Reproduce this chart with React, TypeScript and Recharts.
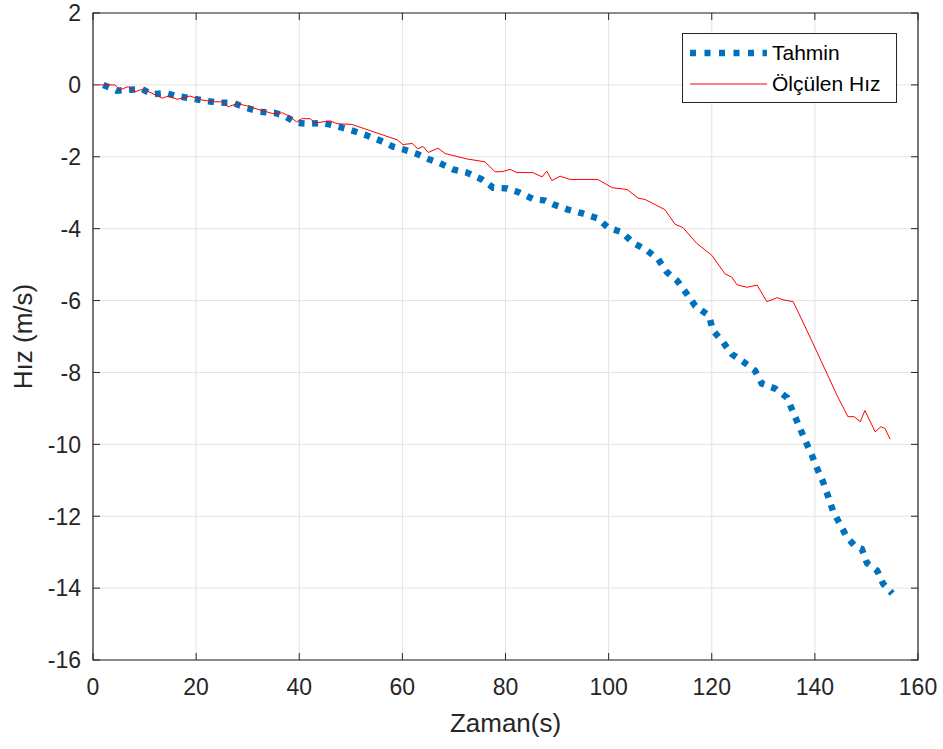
import React from 'react';
import { LineChart, Line, XAxis, YAxis, CartesianGrid, Legend, ReferenceArea, Label } from 'recharts';

// Tahmin (estimate) series
const tahminTime = [
  2, 4.6, 6.8, 9.5, 11.4, 14, 16.3, 18.8, 21.7, 24.6, 27.2, 29.5, 32.4, 35.3, 37.2, 39.5, 42.1, 44.6, 47.3, 49.8,
  52.8, 55.7, 58.2, 60.5, 62.8, 65, 67.3, 69.8, 72.5, 75.4, 77.6, 80.3, 82.8, 85.3, 87.7, 89.2, 92.1, 94.8, 97.8,
  99.9, 102.6, 104.7, 107.4, 109.6, 111.3, 113.3, 115.2, 116.8, 119.5, 120.2, 122.2, 123.9, 126.1, 128.4, 129.7,
  132.3, 134.6, 135.8, 136.9, 138.1, 139.3, 140.4, 141.6, 142.6, 143.5, 144.9, 146.2, 147.8, 149.1, 150.1, 152.1,
  153.2, 155,
];
const tahminValues = [
  0, -0.16, -0.14, -0.12, -0.26, -0.23, -0.31, -0.37, -0.44, -0.5, -0.5, -0.63, -0.75, -0.78, -0.87, -1.06, -1.08,
  -1.06, -1.15, -1.25, -1.39, -1.55, -1.72, -1.81, -1.92, -2.06, -2.18, -2.35, -2.44, -2.63, -2.86, -2.88, -3.0,
  -3.17, -3.22, -3.32, -3.47, -3.57, -3.71, -3.97, -4.1, -4.39, -4.6, -4.85, -5.21, -5.45, -5.82, -6.15, -6.43,
  -6.83, -7.16, -7.49, -7.7, -7.95, -8.31, -8.45, -8.7, -9.11, -9.48, -9.89, -10.26, -10.66, -11.05, -11.46,
  -11.85, -12.23, -12.58, -12.84, -12.91, -13.3, -13.52, -13.87, -14.15,
];

// Ölçülen Hız (measured) series
const olculenTime = [
  1.4, 4.3, 5.2, 6.8, 8.1, 9.7, 11.4, 13.4, 14.6, 16.3, 18.8, 21.1, 23.7, 25, 26.2, 27.9, 29.8, 32, 34.9, 36.8,
  37.8, 39.5, 40.5, 42.1, 43.1, 46, 47.3, 50.2, 59, 60.1, 61.9, 63, 64, 65, 66.9, 68.3, 72.5, 76, 78, 79.5, 80.9,
  82.2, 85.3, 87.1, 88, 89, 90.6, 92.5, 97.9, 100.7, 103.6, 105.7, 107.1, 110.9, 112.9, 114.4, 117.1, 120, 122.6,
  123.9, 124.9, 126.8, 128.8, 130.7, 132.7, 133.8, 135.8, 139.6, 144.3, 146.4, 147.6, 148.8, 149.7, 151.7, 152.8,
  153.6, 154.6,
];
const olculenValues = [
  0, 0, -0.14, -0.05, -0.19, -0.12, -0.23, -0.37, -0.31, -0.4, -0.31, -0.42, -0.47, -0.47, -0.61, -0.52, -0.58,
  -0.68, -0.8, -0.78, -0.85, -1.03, -0.94, -0.94, -1.06, -1.0, -1.08, -1.1, -1.53, -1.66, -1.63, -1.78, -1.71,
  -1.88, -1.76, -1.91, -2.06, -2.14, -2.42, -2.41, -2.35, -2.44, -2.44, -2.56, -2.4, -2.66, -2.54, -2.63, -2.63,
  -2.86, -2.91, -3.15, -3.19, -3.47, -3.88, -3.97, -4.41, -4.74, -5.26, -5.35, -5.56, -5.63, -5.57, -6.03, -5.92,
  -5.98, -6.03, -7.18, -8.64, -9.23, -9.23, -9.37, -9.06, -9.65, -9.51, -9.56, -9.86,
];

const xTicks = [0, 20, 40, 60, 80, 100, 120, 140, 160];
const yTicks = [2, 0, -2, -4, -6, -8, -10, -12, -14, -16];

const tahminData = tahminTime.map((t, i) => ({ t, v: tahminValues[i] }));
const olculenData = olculenTime.map((t, i) => ({ t, v: olculenValues[i] }));

const FONT = '"Liberation Sans", Arial, Helvetica, sans-serif';
const AXIS = '#262626';
const BLUE = '#0072BD';
const RED = '#FF0000';

// plot box (px)
const LEFT = 93;
const TOP = 13;
const RIGHT = 918;
const BOTTOM = 660;

const XTick = (props: any) => {
  const { x, payload } = props;
  return (
    <g>
      <line x1={x} x2={x} y1={BOTTOM} y2={BOTTOM - 7} stroke={AXIS} />
      <line x1={x} x2={x} y1={TOP} y2={TOP + 7} stroke={AXIS} />
      <text x={x} y={BOTTOM + 35} textAnchor="middle" fill={AXIS} fontSize={23} fontFamily={FONT}>
        {payload.value}
      </text>
    </g>
  );
};

const YTick = (props: any) => {
  const { y, payload } = props;
  return (
    <g>
      <line x1={LEFT} x2={LEFT + 7} y1={y} y2={y} stroke={AXIS} />
      <line x1={RIGHT} x2={RIGHT - 7} y1={y} y2={y} stroke={AXIS} />
      <text x={LEFT - 12} y={y + 8.3} textAnchor="end" fill={AXIS} fontSize={23} fontFamily={FONT}>
        {payload.value}
      </text>
    </g>
  );
};

const renderLegend = () => (
  <div
    style={{
      width: 215,
      height: 70,
      border: `1px solid ${AXIS}`,
      background: '#fff',
      fontFamily: FONT,
      fontSize: 21,
      color: '#000',
      boxSizing: 'border-box',
      position: 'relative',
    }}
  >
    <svg width={86} height={68} style={{ position: 'absolute', left: 0, top: 0 }}>
      <line x1={7} x2={84} y1={19} y2={19} stroke={BLUE} strokeWidth={6.5} strokeDasharray="6 8.5" />
      <line x1={7} x2={84} y1={50} y2={50} stroke={RED} strokeWidth={1} />
    </svg>
    <div style={{ position: 'absolute', left: 89, top: 7, lineHeight: '24px' }}>Tahmin</div>
    <div style={{ position: 'absolute', left: 89, top: 38, lineHeight: '24px' }}>Ölçülen Hız</div>
  </div>
);

export default function App() {
  return (
    <div style={{ width: 943, height: 749, background: '#fff' }}>
      <style>{`body{margin:0;}`}</style>
      <LineChart width={943} height={749} margin={{ top: TOP, right: 943 - RIGHT, left: 0, bottom: 29 }}>
        <CartesianGrid stroke="#e3e3e3" strokeWidth={1} />
        <XAxis
          type="number"
          dataKey="t"
          domain={[0, 160]}
          ticks={xTicks}
          height={60}
          axisLine={false}
          tickLine={false}
          tick={<XTick />}
          interval={0}
        >
          <Label
            content={() => (
              <text x={(LEFT + RIGHT) / 2} y={731.5} textAnchor="middle" fill={AXIS} fontSize={26} fontFamily={FONT}>
                Zaman(s)
              </text>
            )}
          />
        </XAxis>
        <YAxis
          type="number"
          domain={[-16, 2]}
          ticks={yTicks}
          width={LEFT}
          axisLine={false}
          tickLine={false}
          tick={<YTick />}
          interval={0}
        >
          <Label
            content={() => (
              <text
                x={32}
                y={(TOP + BOTTOM) / 2}
                textAnchor="middle"
                fill={AXIS}
                fontSize={26}
                fontFamily={FONT}
                transform={`rotate(-90, 32, ${(TOP + BOTTOM) / 2})`}
              >
                Hız (m/s)
              </text>
            )}
          />
        </YAxis>
        <Line
          data={tahminData}
          dataKey="v"
          name="Tahmin"
          type="linear"
          stroke={BLUE}
          strokeWidth={6.5}
          strokeDasharray="6 7.5"
          dot={false}
          activeDot={false}
          isAnimationActive={false}
        />
        <Line
          data={olculenData}
          dataKey="v"
          name="Ölçülen Hız"
          type="linear"
          stroke={RED}
          strokeWidth={1}
          dot={false}
          activeDot={false}
          isAnimationActive={false}
        />
        <ReferenceArea x1={0} x2={160} y1={-16} y2={2} fill="none" stroke={AXIS} strokeWidth={1.2} />
        <Legend
          layout="horizontal"
          verticalAlign="middle"
          align="center"
          content={renderLegend}
          wrapperStyle={{ position: 'absolute', left: 682, top: 33, width: 215, height: 70 }}
        />
      </LineChart>
    </div>
  );
}
